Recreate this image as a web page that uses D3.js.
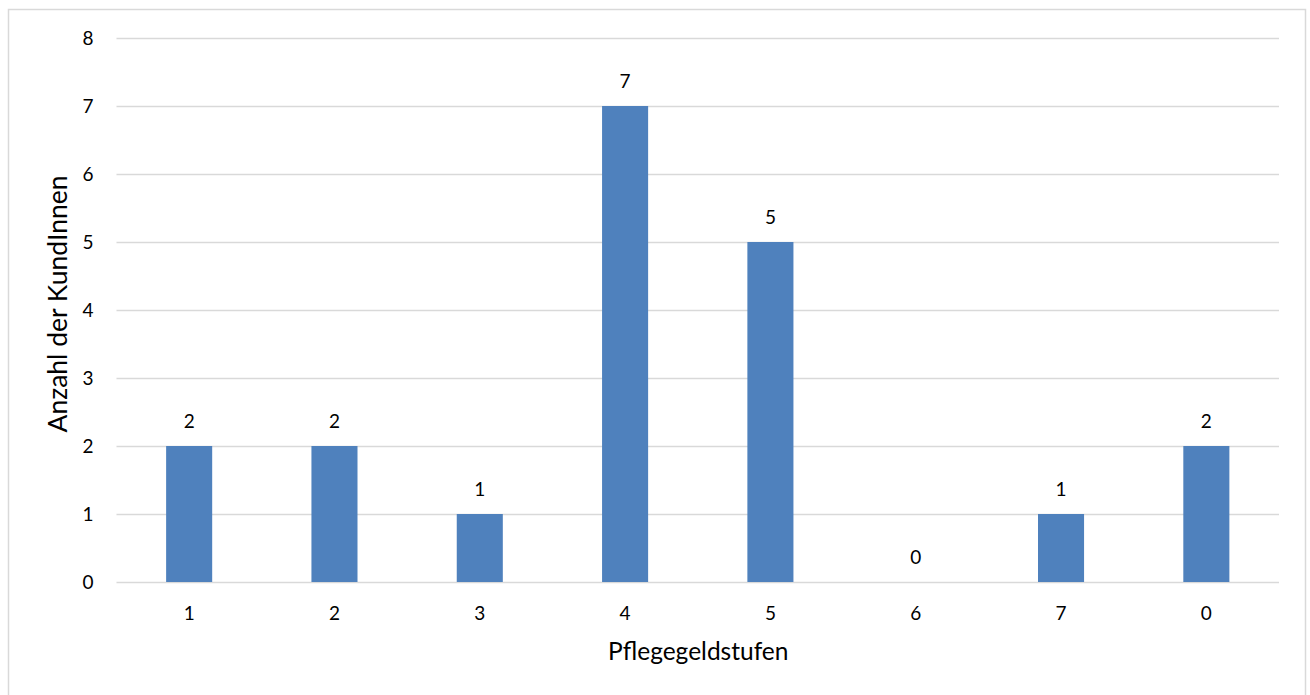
<!DOCTYPE html>
<html>
<head>
<meta charset="utf-8">
<script src="https://cdn.jsdelivr.net/npm/d3@7"></script>
<style>
  html, body { margin: 0; padding: 0; background: #fff; }
  svg { display: block; }
  text { font-family: Lato, "Open Sans", sans-serif; fill: #000; }
</style>
</head>
<body>
<svg id="chart" width="1310" height="695"></svg>
<script>
const categories = ["1", "2", "3", "4", "5", "6", "7", "0"];
const values = [2, 2, 1, 7, 5, 0, 1, 2];
const yTicks = [0, 1, 2, 3, 4, 5, 6, 7, 8];
const xTitle = "Pflegegeldstufen";
const yTitle = "Anzahl der KundInnen";

const plot = { left: 116.5, right: 1279, top: 38, bottom: 582 };
const tickFont = 19, xTitleFont = 24.5, yTitleFont = 26.5;

const svg = d3.select("#chart");

svg.append("rect")
  .attr("x", 8.5).attr("y", 9.5)
  .attr("width", 1297).attr("height", 700)
  .attr("fill", "#fff").attr("stroke", "#d9d9d9").attr("stroke-width", 1.5);

const x = d3.scaleBand()
  .domain(categories)
  .range([plot.left, plot.right])
  .paddingInner(0.683)
  .paddingOuter(0.683 / 2);

const y = d3.scaleLinear().domain([0, 8]).range([plot.bottom, plot.top]);

const yAxis = d3.axisLeft(y).tickValues(yTicks).tickSize(-(plot.right - plot.left)).tickPadding(23).tickFormat(d3.format("d"));
const gy = svg.append("g").attr("transform", `translate(${plot.left},0)`).call(yAxis);
gy.select(".domain").remove();
gy.selectAll(".tick line").attr("stroke", "#d9d9d9").attr("stroke-width", 1.5);
gy.selectAll(".tick text").attr("font-size", tickFont).style("fill", "#000");

const data = categories.map((c, i) => ({ c, v: values[i] }));

svg.append("g").selectAll("rect")
  .data(data)
  .join("rect")
  .attr("x", d => x(d.c))
  .attr("y", d => y(d.v))
  .attr("width", x.bandwidth())
  .attr("height", d => y(0) - y(d.v))
  .attr("fill", "#4f81bd");

svg.append("g").selectAll("text")
  .data(data)
  .join("text")
  .attr("x", d => x(d.c) + x.bandwidth() / 2)
  .attr("y", d => y(d.v) - 18)
  .attr("text-anchor", "middle")
  .attr("font-size", tickFont)
  .text(d => d.v);

const xAxis = d3.axisBottom(x).tickSize(0).tickPadding(25);
const gx = svg.append("g").attr("transform", `translate(0,${plot.bottom})`).call(xAxis);
gx.select(".domain").remove();
gx.selectAll(".tick text").attr("font-size", tickFont).style("fill", "#000");

svg.append("text")
  .attr("x", (plot.left + plot.right) / 2 + 0.5)
  .attr("y", 660)
  .attr("text-anchor", "middle")
  .attr("font-size", xTitleFont)
  .text(xTitle);

svg.append("text")
  .attr("transform", "translate(67,304) rotate(-90)")
  .attr("text-anchor", "middle")
  .attr("font-size", yTitleFont)
  .text(yTitle);
</script>
</body>
</html>
